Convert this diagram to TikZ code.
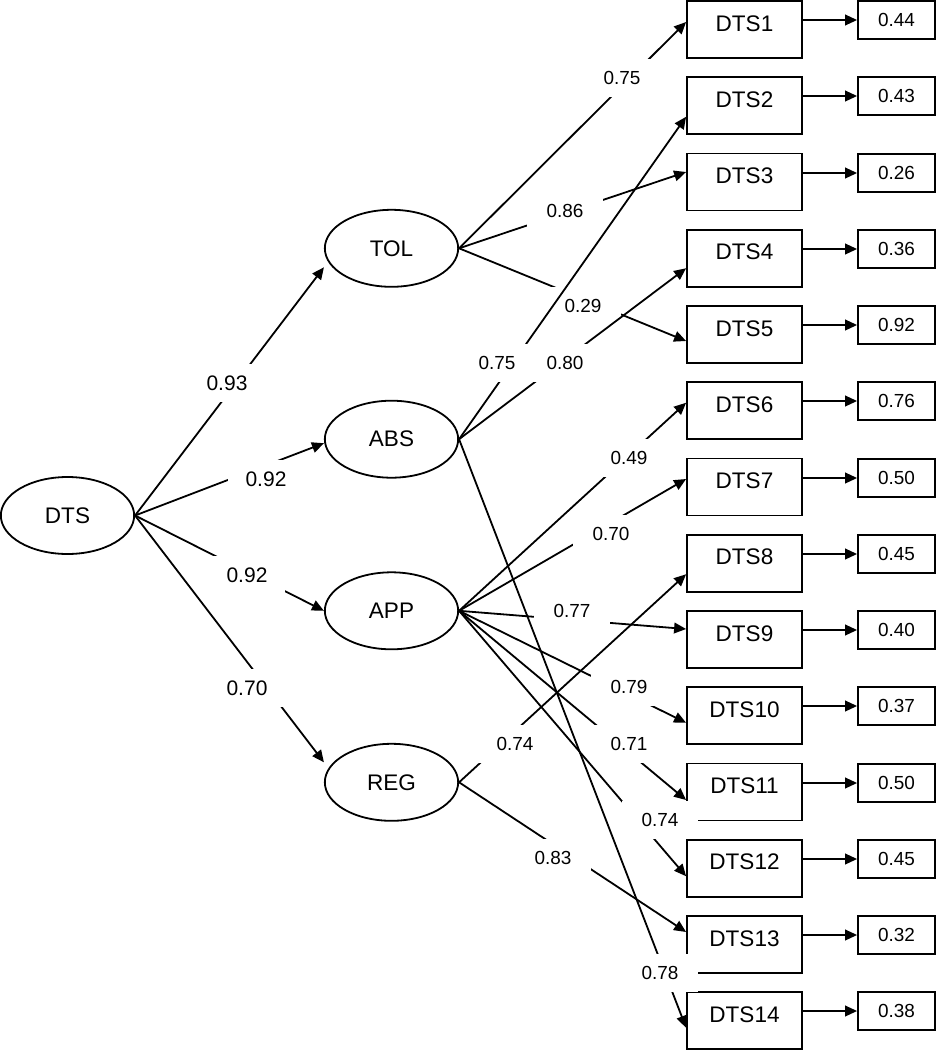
\documentclass[tikz,border=0pt]{standalone}
\usepackage{fontspec}
\setmainfont{Liberation Sans}
\usetikzlibrary{shapes.geometric,arrows.meta,calc}
\tikzset{
  lw/.style={line width=1.35pt},
  lat/.style={ellipse, draw, lw, minimum width=100pt, minimum height=57.75pt, inner sep=0pt, font=\fontsize{16.9}{18}\selectfont},
  obs/.style={rectangle, draw, lw, minimum width=86.25pt, minimum height=42.75pt, inner sep=0pt, text height=22.5pt, text depth=20.25pt, font=\fontsize{16.9}{18}\selectfont},
  res/.style={rectangle, draw, lw, minimum width=57.75pt, minimum height=28.5pt, inner sep=0pt, font=\fontsize{14.2}{16}\selectfont},
  coef/.style={fill=white, minimum width=57pt, minimum height=28.5pt, inner sep=0pt, font=\fontsize{14.2}{16}\selectfont},
  coefA/.style={coef, font=\fontsize{15.75}{17}\selectfont},
  conn/.style={lw, -{Triangle[length=9pt,width=8pt]}}
}
\begin{document}
\begin{tikzpicture}[x=0.75pt,y=-0.75pt]
\useasboundingbox (0,0) rectangle (936,1050);
% latent variables
\node[lat] (DTS) at (67.5,515.5) {DTS};
\node[lat] (TOL) at (391.5,248.3) {TOL};
\node[lat] (ABS) at (391.5,439.2) {ABS};
\node[lat] (APP) at (391.5,610.8) {APP};
\node[lat] (REG) at (391.5,782.3) {REG};
% observed variables and residuals
\foreach \i/\r in {1/0.44,2/0.43,3/0.26,4/0.36,5/0.92,6/0.76,7/0.50,8/0.45,9/0.40,10/0.37,11/0.50,12/0.45,13/0.32,14/0.38}{
  \node[obs] (O\i) at (744.5,{29.5+(\i-1)*76.25}) {DTS\i};
  \node[res] (E\i) at (896.5,{round(20+(\i-1)*76.25)}) {\r};
  \draw[conn] (O\i.east |- E\i.west) -- (E\i.west);
}
% first order loadings
\draw[conn] (DTS.east) -- ($(TOL.west)+(0,19)$);
\node[coefA] (k1) at (227,383) {0.93};
\draw[conn] (DTS.east) -- ($(ABS.west)+(0,4)$);
\node[coefA] (k2) at (266,479) {0.92};
\draw[conn] (DTS.east) -- (APP.west);
\node[coefA] (k3) at (247,575) {0.92};
\draw[conn] (DTS.east) -- ($(REG.west)+(0,-20)$);
\node[coefA] (k4) at (247,688) {0.70};
% TOL
\draw[conn] (TOL.east) -- ($(O1.west)+(0,-7.5)$);
\node[coef] (t1) at (622,78) {0.75};
\draw[conn] (TOL.east) -- ($(O3.west)+(0,-10)$);
\node[coef] (t3) at (565,211) {0.86};
\draw[conn] (TOL.east) -- ($(O5.west)+(0,6.5)$);
\node[coef] (t5) at (583,306) {0.29};
% ABS
\draw[conn] (ABS.east) -- ($(O14.west)+(0,7)$);
\node[coef] (a14) at (660,973) {0.78};
\draw[conn] (ABS.east) -- ($(O4.west)+(0,10)$);
\node[coef] (a4) at (565,363) {0.80};
\draw[conn] (ABS.east) -- ($(O2.west)+(0,11)$);
\node[coef] (a2) at (497,363) {0.75};
% APP
\draw[conn] (APP.east) -- ($(O12.west)+(0,8)$);
\node[coef] (p12) at (660,820) {0.74};
\draw[conn] (APP.east) -- ($(O6.west)+(0,-8)$);
\node[coef] (p6) at (629,458) {0.49};
\draw[conn] (APP.east) -- ($(O7.west)+(0,-8)$);
\node[coef] (p7) at (611,534) {0.70};
\draw[conn] (APP.east) -- ($(O9.west)+(0,-10.5)$);
\node[coef] (p9) at (572,611) {0.77};
\draw[conn] (APP.east) -- ($(O10.west)+(0,7)$);
\node[coef] (p10) at (629,687) {0.79};
\draw[conn] (APP.east) -- ($(O11.west)+(0,8)$);
\node[coef] (p11) at (629,744) {0.71};
% REG
\draw[conn] (REG.east) -- ($(O8.west)+(0,11)$);
\node[coef] (r8) at (515,744) {0.74};
\draw[conn] (REG.east) -- ($(O13.west)+(0,-12.5)$);
\node[coef] (r13) at (553,858) {0.83};
\end{tikzpicture}
\end{document}
